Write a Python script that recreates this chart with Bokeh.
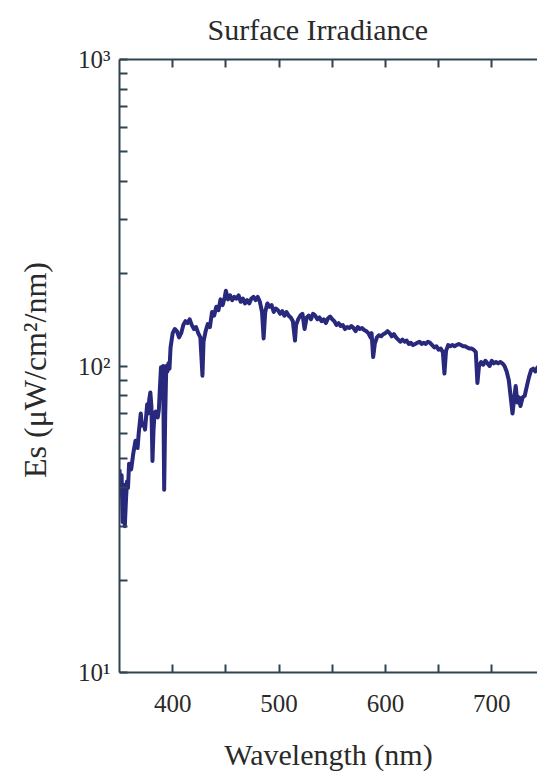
from bokeh.plotting import figure
from bokeh.models import Range1d, LinearAxis, LogAxis, FixedTicker, ColumnDataSource
from bokeh.embed import file_html
from bokeh.resources import INLINE

# Downwelling surface irradiance spectrum
wavelength = [
    350, 351, 352, 353, 354, 355, 356, 357, 358, 359, 361, 363, 365, 367, 368,
    370, 371, 373, 374, 376, 377, 378, 379, 380, 381, 382, 383, 384, 386, 387,
    388, 389, 390, 391, 392, 393, 394, 395, 396, 397, 398, 400, 402, 404, 406,
    408, 410, 412, 414, 416, 418, 420, 422, 424, 426, 428, 429, 431, 433, 435,
    437, 439, 441, 443, 445, 447, 449, 450, 452, 454, 456, 458, 460, 462, 464,
    466, 468, 470, 472, 474, 476, 478, 480, 482, 484, 485.5, 487, 489, 491, 493,
    495, 497, 499, 501, 503, 505, 507, 509, 511, 513, 515, 516, 518, 520, 522,
    524, 526, 528, 530, 532, 534, 536, 538, 540, 542, 544, 546, 548, 550, 552,
    554, 556, 558, 560, 562, 564, 566, 568, 570, 572, 574, 576, 578, 580, 582,
    584, 586, 587, 588.5, 590, 592, 594, 596, 598, 600, 602, 604, 606, 608, 610,
    612, 614, 616, 618, 620, 622, 624, 626, 628, 630, 632, 634, 636, 638, 640,
    642, 644, 646, 648, 650, 652, 654, 655.5, 657, 659, 661, 663, 665, 667, 669,
    671, 673, 675, 677, 679, 681, 683, 685, 686.5, 688, 690, 692, 694, 696, 698,
    700, 702, 704, 706, 708, 710, 712, 714, 716, 718, 719.5, 721, 722.5, 724, 725.5,
    727, 729, 731, 733, 735, 737, 739, 741, 743, 745,
]
irradiance = [
    46, 38, 44, 31, 41, 30, 36, 42, 40, 48, 46, 52, 57, 54, 60,
    70, 64, 65, 62, 75, 70, 78, 82, 74, 49, 62, 70, 71, 68, 72,
    85, 99, 92, 100, 39.5, 70, 100, 96, 102, 98, 115, 128, 132, 130, 124,
    128, 136, 140, 138, 142, 136, 132, 134, 128, 124, 93, 120, 130, 137, 134,
    150, 146, 156, 152, 165, 158, 168, 176, 165, 170, 164, 168, 166, 170, 162,
    166, 160, 164, 160, 166, 168, 164, 168, 162, 150, 123, 150, 160, 156, 158,
    150, 154, 152, 148, 151, 146, 150, 146, 144, 140, 121, 136, 142, 146, 148,
    132, 144, 146, 142, 148, 146, 142, 144, 140, 142, 138, 143, 145, 142, 140,
    136, 138, 135, 136, 132, 134, 133, 135, 133, 130, 134, 132, 133, 131, 130,
    128, 124, 128, 107, 118, 124, 126, 125, 127, 128, 130, 128, 125, 127, 124,
    122, 120, 122, 120, 121, 118, 119, 117, 118, 119, 120, 118, 119, 118, 120,
    119, 117, 115, 116, 113, 114, 111, 94.5, 112, 117, 116, 117, 116, 117, 118,
    117, 116, 116, 115, 114, 114, 113, 111, 88, 100, 103, 101, 104, 102, 100,
    104, 102, 103, 102, 103, 102, 100, 96, 90, 78, 70, 78, 86, 76, 79,
    74, 79, 80, 86, 92, 97, 98, 96, 99, 100,
]

x_major_ticks = [400, 500, 600, 700]
x_minor_ticks = [450, 550, 650]
y_major_ticks = [10, 100, 1000]
y_tick_labels = ["10\u00b9", "10\u00b2", "10\u00b3"]
y_minor_ticks = [20, 30, 40, 50, 60, 70, 80, 90, 200, 300, 400, 500, 600, 700, 800, 900]

FONT = "Liberation Serif"
TEXT_COLOR = "#2a2a2a"
AXIS_COLOR = "#2e4453"
LINE_COLOR = "#28287c"

p = figure(
    width=537, height=773,
    x_range=Range1d(350, 743), y_range=Range1d(10, 1000),
    y_axis_type="log", x_axis_location=None, y_axis_location=None,
    output_backend="svg", toolbar_location=None,
    min_border_left=119, min_border_right=0, min_border_top=58, min_border_bottom=100,
)
p.outline_line_color = None
p.xgrid.visible = False
p.ygrid.visible = False
p.background_fill_color = "white"
p.border_fill_color = "white"

p.title.text = "Surface Irradiance"
p.title.text_font = FONT
p.title.text_font_size = "30px"
p.title.text_font_style = "normal"
p.title.text_color = TEXT_COLOR
p.title.align = "left"
p.title.offset = 88
p.title.standoff = 24
p.title.vertical_align = "top"

def style_ticks(ax):
    ax.axis_line_color = AXIS_COLOR
    ax.axis_line_width = 2
    ax.major_tick_line_color = AXIS_COLOR
    ax.minor_tick_line_color = AXIS_COLOR
    ax.major_tick_line_width = 2
    ax.minor_tick_line_width = 2
    ax.major_tick_in = 8
    ax.major_tick_out = 0
    ax.minor_tick_in = 8
    ax.minor_tick_out = 0
    ax.major_label_text_font = FONT
    ax.major_label_text_color = TEXT_COLOR
    ax.axis_label_text_font = FONT
    ax.axis_label_text_font_style = "normal"
    ax.axis_label_text_color = TEXT_COLOR

xticker = FixedTicker(ticks=x_major_ticks, minor_ticks=x_minor_ticks)

bottom = LinearAxis(ticker=xticker, axis_label="Wavelength (nm)")
style_ticks(bottom)
bottom.major_label_text_font_size = "25px"
bottom.major_label_standoff = 22
bottom.axis_label_text_font_size = "30px"
bottom.axis_label_standoff = 23
p.add_layout(bottom, "below")

top = LinearAxis(ticker=xticker)
style_ticks(top)
top.major_label_text_font_size = "0px"
top.major_label_standoff = 0
p.add_layout(top, "above")

yticker = FixedTicker(ticks=y_major_ticks, minor_ticks=y_minor_ticks)
left = LogAxis(ticker=yticker, axis_label="Es  (\u03bcW/cm\u00b2/nm)")
style_ticks(left)
left.major_label_overrides = dict(zip(y_major_ticks, y_tick_labels))
left.major_label_text_font_size = "25px"
left.major_label_standoff = 9
left.axis_label_text_font_size = "32px"
left.axis_label_standoff = 22
p.add_layout(left, "left")

src = ColumnDataSource(data=dict(x=wavelength, y=irradiance))
p.line("x", "y", source=src, line_color=LINE_COLOR, line_width=4, line_join="round")

open("out.html", "w").write(file_html(p, INLINE))
